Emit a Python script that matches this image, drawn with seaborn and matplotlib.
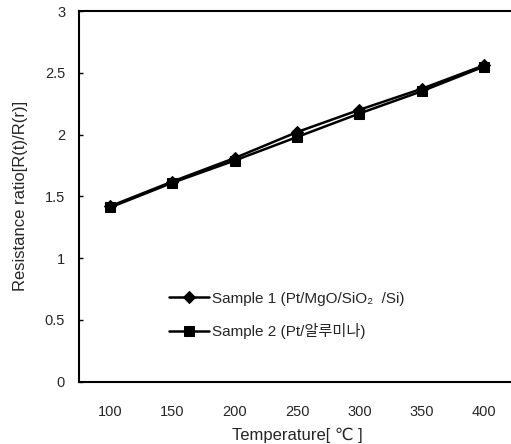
import pandas as pd
import matplotlib
matplotlib.use("Agg")
import matplotlib.pyplot as plt
import seaborn as sns

# data
temps = [100, 150, 200, 250, 300, 350, 400]
sample1 = [1.42, 1.62, 1.81, 2.02, 2.20, 2.37, 2.56]
sample2 = [1.41, 1.61, 1.79, 1.98, 2.17, 2.35, 2.55]
label1 = "Sample 1 (Pt/MgO/SiO\u2082  /Si)"
label2 = "Sample 2 (Pt/알루미나)"
yticks = [0, 0.5, 1, 1.5, 2, 2.5, 3]

sns.set_theme(style="white")
plt.rcParams['font.family'] = ['Liberation Sans', 'DejaVu Sans', 'Noto Sans CJK KR']

df = pd.DataFrame({
    "Temperature": temps * 2,
    "Ratio": sample1 + sample2,
    "Sample": [label1] * len(temps) + [label2] * len(temps),
})

fig = plt.figure(figsize=(5.11, 4.44), dpi=100)
ax = fig.add_axes([79 / 511, 62.3 / 444, 436 / 511, 370.7 / 444])

sns.lineplot(data=df, x="Temperature", y="Ratio", hue="Sample", style="Sample",
             markers={label1: "D", label2: "s"}, dashes=False,
             palette={label1: "black", label2: "black"},
             markersize=7, linewidth=1.8, markeredgecolor="black", ax=ax, legend=False)

# diamonds are a little smaller than the squares
ax.lines[0].set_markersize(6)
ax.lines[1].set_markersize(7.5)

ax.set_xlim(75, 425)
ax.set_ylim(0, 3)
ax.set_xticks(temps)
ax.set_xticks([125, 175, 225, 275, 325, 375], minor=True)
ax.tick_params(axis="x", which="major", length=0, pad=17, labelsize=10.5)
ax.tick_params(axis="x", which="minor", direction="in", length=4, width=1, color="black")
ax.set_yticks(yticks)
ax.set_yticklabels([f"{v:g}" for v in yticks])
ax.tick_params(axis="y", direction="in", length=3, width=1, pad=10, labelsize=10.5,
               color="black", left=True)
for side in ["left", "bottom", "top"]:
    ax.spines[side].set_color("black")
    ax.spines[side].set_linewidth(1.5)
ax.spines["right"].set_visible(False)

ax.set_xlabel("Temperature[ \u2103 ]", fontsize=12, labelpad=6)
ax.set_ylabel("Resistance ratio[R(t)/R(r)]", fontsize=12, labelpad=12)

ax.legend(handles=ax.lines[:2], labels=[label1, label2],
          loc="upper left", bbox_to_anchor=(0.175, 0.28), frameon=False,
          fontsize=11, handlelength=2.6, labelspacing=1.15, handletextpad=0.2)

fig.savefig("out.png", dpi=100)
